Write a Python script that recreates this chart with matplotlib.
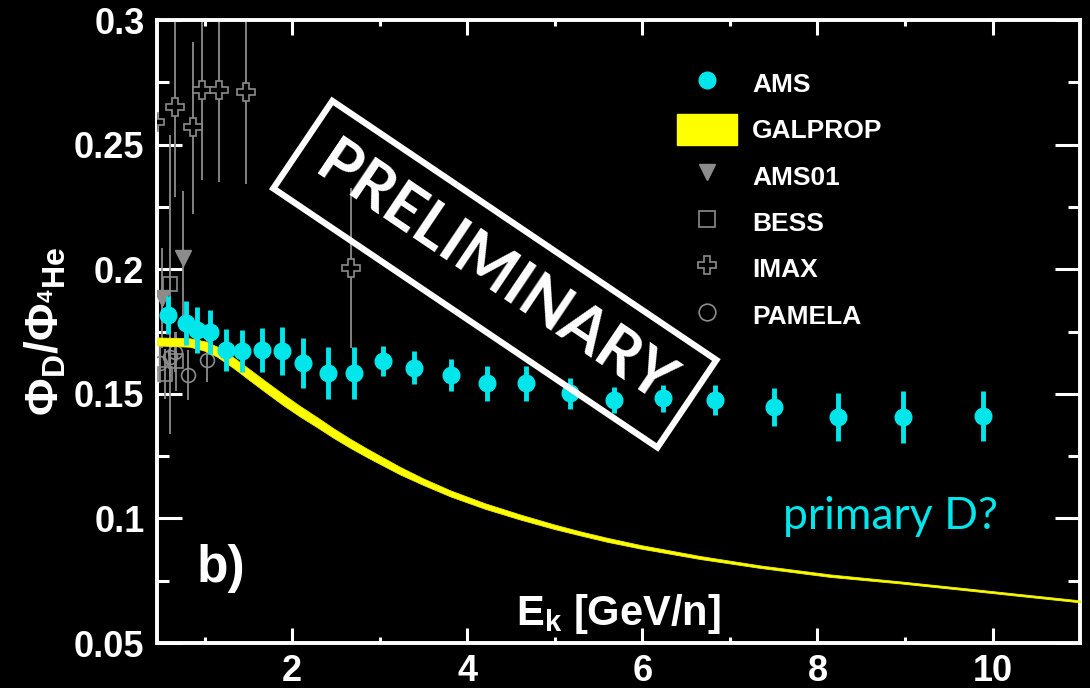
import numpy as np
import matplotlib.pyplot as plt
from matplotlib.lines import Line2D
from matplotlib.patches import Patch

plt.rcParams['font.family'] = ['Liberation Sans', 'DejaVu Sans']
plt.rcParams['mathtext.fontset'] = 'custom'
plt.rcParams['mathtext.rm'] = 'Liberation Sans:bold'
plt.rcParams['mathtext.bf'] = 'Liberation Sans:bold'
plt.rcParams['mathtext.it'] = 'Liberation Sans:bold'

CYAN = '#00e6ea'
GREY = '#8c8c8c'

# AMS D/4He ratio
ams_x = [0.58, 0.79, 0.91, 1.06, 1.25, 1.43, 1.66, 1.88, 2.13, 2.41, 2.71, 3.04, 3.39,
         3.81, 4.23, 4.67, 5.17, 5.68, 6.24, 6.83, 7.50, 8.23, 8.98, 9.89]
ams_y = [0.1816, 0.1784, 0.1756, 0.1748, 0.1676, 0.1672, 0.1676, 0.1672, 0.1624, 0.1584,
         0.1584, 0.1632, 0.1604, 0.1575, 0.1543, 0.1543, 0.1503, 0.1475, 0.1483, 0.1475,
         0.1447, 0.1407, 0.1407, 0.1411]
ams_err = [0.0076, 0.0090, 0.0092, 0.0088, 0.0084, 0.0084, 0.0088, 0.0096, 0.0100, 0.0105,
           0.0105, 0.0060, 0.0066, 0.0064, 0.0070, 0.0070, 0.0062, 0.0052, 0.0054, 0.0060,
           0.0078, 0.0096, 0.0104, 0.0100]

# GALPROP prediction band (centre and half width)
gal_x = [0.46, 0.83, 1.00, 1.14, 1.33, 1.52, 1.71, 1.90, 2.09, 2.29, 2.47, 2.66, 2.86,
         3.05, 3.23, 3.50, 3.81, 4.20, 4.61, 5.00, 5.29, 5.60, 5.98, 6.66, 7.35, 8.15,
         8.95, 9.63, 10.3, 11.0]
gal_y = [0.1710, 0.1706, 0.1692, 0.1670, 0.1625, 0.1575, 0.1525, 0.1476, 0.1430, 0.1385,
         0.1343, 0.1302, 0.1262, 0.1226, 0.1192, 0.1147, 0.1100, 0.1050, 0.1005, 0.0966,
         0.0940, 0.0914, 0.0886, 0.0843, 0.0806, 0.0770, 0.0743, 0.0718, 0.0693, 0.0667]
gal_w = [0.0016, 0.0017, 0.0019, 0.0020, 0.0021, 0.0022, 0.0022, 0.0022, 0.0021, 0.0020,
         0.0019, 0.0018, 0.0017, 0.0016, 0.0015, 0.0013, 0.0012, 0.0011, 0.0010, 0.0009,
         0.0008, 0.0008, 0.0007, 0.0006, 0.0005, 0.0005, 0.0004, 0.0004, 0.0004, 0.0004]

# older experiments
ams01_x = [0.51, 0.75]
ams01_y = [0.1884, 0.2045]
ams01_err = [0.020, 0.027]

bess_x = [0.55, 0.61, 0.67]
bess_y = [0.158, 0.194, 0.163]
bess_err = [0.010, 0.060, 0.012]

imax_x = [0.43, 0.66, 0.87, 0.97, 1.17, 1.47, 2.67]
imax_y = [0.259, 0.265, 0.257, 0.272, 0.272, 0.271, 0.2005]
imax_lo = [0.030, 0.036, 0.035, 0.036, 0.037, 0.037, 0.032]
imax_hi = [0.040, 0.050, 0.034, 0.050, 0.050, 0.050, 0.032]

pam_x = [0.49, 0.61, 0.66, 0.81, 1.03]
pam_y = [0.1624, 0.1648, 0.1668, 0.1575, 0.1636]
pam_err = [0.008, 0.008, 0.008, 0.010, 0.009]

fig = plt.figure(figsize=(10.9, 6.88), dpi=100, facecolor='black')
ax = fig.add_axes([0.144, 0.0654, 0.847, 0.9055])
ax.set_facecolor('black')

ax.errorbar(imax_x, imax_y, yerr=[imax_lo, imax_hi], fmt='none', ecolor=GREY, elinewidth=1.3, zorder=2)
ax.plot(imax_x, imax_y, 'P', ms=13, mfc='black', mec=GREY, mew=1.2, ls='none', zorder=3)
ax.errorbar(bess_x, bess_y, yerr=bess_err, fmt='none', ecolor=GREY, elinewidth=1.3, zorder=2)
ax.plot(bess_x, bess_y, 's', ms=10, mfc='none', mec=GREY, mew=1.2, ls='none', zorder=3)
ax.errorbar(pam_x, pam_y, yerr=pam_err, fmt='none', ecolor=GREY, elinewidth=1.3, zorder=2)
ax.plot(pam_x, pam_y, 'o', ms=10, mfc='none', mec=GREY, mew=1.2, ls='none', zorder=3)
ax.errorbar(ams01_x, ams01_y, yerr=ams01_err, fmt='none', ecolor=GREY, elinewidth=1.3, zorder=2)
ax.plot(ams01_x, ams01_y, 'v', ms=11, color=GREY, ls='none', zorder=3)

gal_y = np.array(gal_y)
gal_w = np.array(gal_w)
ax.fill_between(gal_x, gal_y - gal_w, gal_y + gal_w, color='#ffff00', lw=0.6, ec='#f0f000', zorder=4)

ax.errorbar(ams_x, ams_y, yerr=ams_err, fmt='o', color=CYAN, ms=12, elinewidth=3.5,
            capsize=0, zorder=5)

ax.set_xlim(0.457, 11.0)
ax.set_ylim(0.05, 0.3)
ax.set_xticks([2, 4, 6, 8, 10])
ax.set_xticks([1, 3, 5, 7, 9], minor=True)
ax.set_yticks([0.05, 0.1, 0.15, 0.2, 0.25, 0.3])
ax.set_yticklabels(['0.05', '0.1', '0.15', '0.2', '0.25', '0.3'])
ax.set_yticks(np.arange(0.075, 0.3, 0.05), minor=True)

for s in ax.spines.values():
    s.set_color('white')
    s.set_linewidth(2.8)
ax.tick_params(which='both', direction='in', colors='white', width=2.2,
               top=True, right=True, labelsize=26)
ax.tick_params(axis='x', which='major', length=11, pad=8)
ax.tick_params(axis='x', which='minor', length=4.5)
ax.tick_params(axis='y', which='major', length=18, pad=9)
ax.tick_params(axis='y', which='minor', length=8.5)
for lab in ax.get_xticklabels() + ax.get_yticklabels():
    lab.set_fontweight('bold')

ax.set_xlabel(r'$\mathbf{E_k}$ [GeV/n]', fontsize=30, fontweight='bold', color='white')
ax.xaxis.set_label_coords(0.5, 0.012)
ax.xaxis.label.set_va('bottom')
ax.set_ylabel(r'$\Phi_D/\Phi_{^4He}$', fontsize=33, color='white', labelpad=4)

ax.text(0.043, 0.098, 'b)', transform=ax.transAxes, fontsize=37, fontweight='bold',
        color='white', ha='left', va='baseline')
ax.text(0.678, 0.183, 'primary D?', transform=ax.transAxes, fontsize=32, color=CYAN,
        family='Lato', ha='left', va='baseline')

ax.text(0.366, 0.592, 'PRELIMINARY', transform=ax.transAxes, rotation=-34,
        rotation_mode='anchor', ha='center', va='center', fontsize=45,
        family='Lato', fontweight='bold', color='white', zorder=7,
        bbox=dict(boxstyle='square,pad=0.38', fc='none', ec='white', lw=4.5))

handles = [
    Line2D([], [], marker='o', ls='none', color=CYAN, ms=12),
    Patch(fc='#ffff00', ec='#ffff00'),
    Line2D([], [], marker='v', ls='none', color=GREY, ms=11),
    Line2D([], [], marker='s', ls='none', mfc='none', mec=GREY, mew=1.2, ms=11),
    Line2D([], [], marker='P', ls='none', mfc='none', mec=GREY, mew=1.2, ms=13),
    Line2D([], [], marker='o', ls='none', mfc='none', mec=GREY, mew=1.2, ms=12),
]
labels = ['AMS', 'GALPROP', 'AMS01', 'BESS', 'IMAX', 'PAMELA']
leg = ax.legend(handles, labels, loc='upper left', bbox_to_anchor=(0.5634, 0.9238),
                frameon=False, fontsize=19, handlelength=2.27, handleheight=1.45,
                handletextpad=0.57, labelspacing=0.57, borderpad=0, borderaxespad=0)
for t in leg.get_texts():
    t.set_color('white')
    t.set_fontweight('bold')

fig.savefig('out.png', dpi=100, facecolor='black')
